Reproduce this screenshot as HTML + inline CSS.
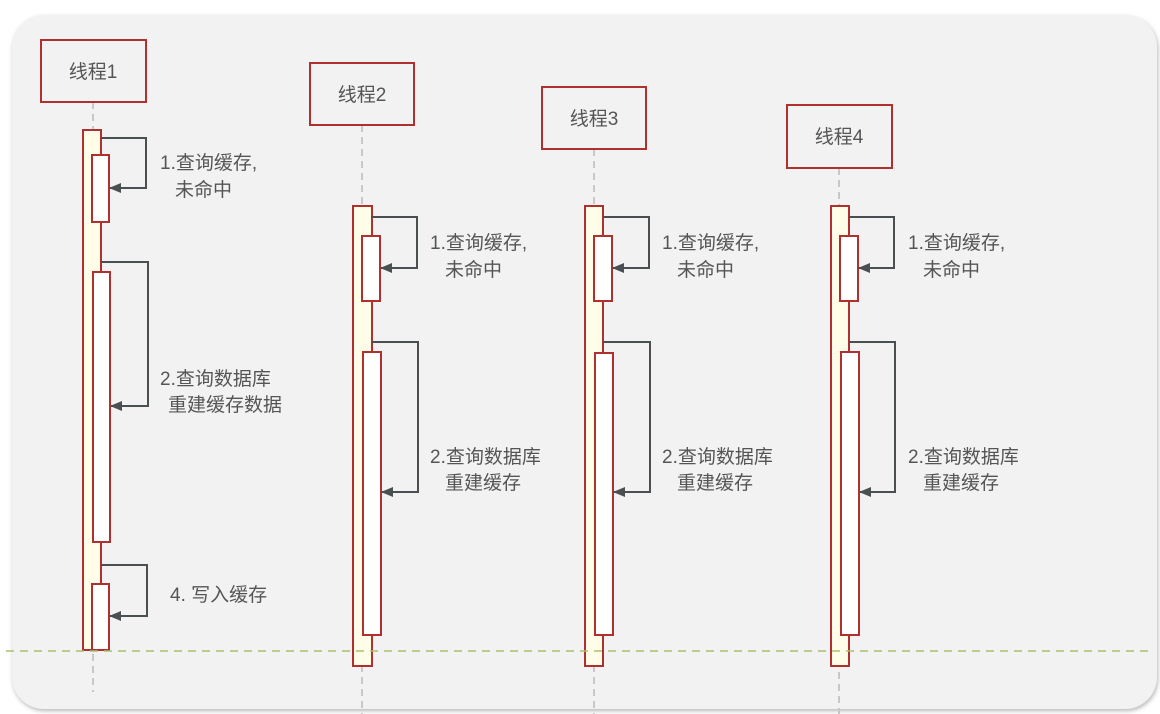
<!DOCTYPE html>
<html><head><meta charset="utf-8"><style>
html,body{margin:0;padding:0;background:#fff;}
svg{display:block;}
text{font-family:"Liberation Sans","Noto Sans CJK SC",sans-serif;font-size:19px;fill:#555;}
</style></head><body>
<svg width="1160" height="714" viewBox="0 0 1160 714" xmlns="http://www.w3.org/2000/svg">
<defs>
<filter id="sh" x="-5%" y="-5%" width="110%" height="110%"><feDropShadow dx="1" dy="2" stdDeviation="2" flood-color="#888" flood-opacity="0.6"/></filter>
<marker id="ar" markerWidth="12" markerHeight="10" refX="11" refY="5" orient="auto" markerUnits="userSpaceOnUse"><path d="M0,0 L12,5 L0,10 z" fill="#4a4f52"/></marker>
</defs>
<rect x="12" y="15" width="1145" height="694" rx="32" fill="#f2f2f2" filter="url(#sh)"/>
<g stroke="#c8c8c8" stroke-width="2" stroke-dasharray="7,5" fill="none">
<line x1="93" y1="102" x2="93" y2="692"/>
<line x1="362" y1="125" x2="362" y2="714"/>
<line x1="594" y1="149" x2="594" y2="714"/>
<line x1="839" y1="168" x2="839" y2="714"/>
</g>
<g fill="#f2f2f2" stroke="#b03030" stroke-width="2">
<rect x="41" y="40" width="105" height="62"/>
<rect x="310" y="63" width="104" height="62"/>
<rect x="542" y="87" width="104" height="62"/>
<rect x="787" y="105" width="105" height="63"/>
</g>
<text x="93" y="78" text-anchor="middle">线程1</text>
<text x="362" y="101" text-anchor="middle">线程2</text>
<text x="594" y="125" text-anchor="middle">线程3</text>
<text x="839" y="143" text-anchor="middle">线程4</text>
<g fill="#fffde8" stroke="#b03030" stroke-width="2">
<rect x="83" y="130" width="18" height="520"/>
<rect x="353" y="206" width="19" height="460"/>
<rect x="585" y="206" width="18" height="460"/>
<rect x="831" y="206" width="18" height="460"/>
</g>
<g fill="#fff" stroke="#b03030" stroke-width="2">
<rect x="92" y="155" width="17" height="67"/>
<rect x="93" y="272" width="17" height="270"/>
<rect x="92" y="584" width="17" height="66"/>
<rect x="362" y="236" width="18" height="65"/>
<rect x="363" y="352" width="18" height="283"/>
<rect x="594" y="236" width="18" height="65"/>
<rect x="595" y="353" width="18" height="282"/>
<rect x="840" y="236" width="18" height="65"/>
<rect x="841" y="352" width="18" height="283"/>
</g>
<g stroke="#4a4f52" stroke-width="2" fill="none" marker-end="url(#ar)">
<polyline points="101,138 146,138 146,188 110,188"/>
<polyline points="101,262 148,262 148,406 111,406"/>
<polyline points="101,565 147,565 147,616 110,616"/>
<polyline points="371,217 417,217 417,268 381,268"/>
<polyline points="372,342 418,342 418,492 382,492"/>
<polyline points="603,217 649,217 649,268 613,268"/>
<polyline points="603,342 650,342 650,492 614,492"/>
<polyline points="849,217 894,217 894,268 859,268"/>
<polyline points="849,342 895,342 895,492 860,492"/>
</g>
<line x1="6" y1="651" x2="1152" y2="651" stroke="#a8c070" stroke-width="1.5" stroke-dasharray="8,6"/>
<text x="160" y="169">1.查询缓存,</text>
<text x="175" y="196">未命中</text>
<text x="160" y="385">2.查询数据库</text>
<text x="168" y="411">重建缓存数据</text>
<text x="170" y="601">4. 写入缓存</text>
<text x="430" y="249">1.查询缓存,</text>
<text x="445" y="276">未命中</text>
<text x="430" y="463">2.查询数据库</text>
<text x="445" y="489">重建缓存</text>
<text x="662" y="249">1.查询缓存,</text>
<text x="677" y="276">未命中</text>
<text x="662" y="463">2.查询数据库</text>
<text x="677" y="489">重建缓存</text>
<text x="908" y="249">1.查询缓存,</text>
<text x="923" y="276">未命中</text>
<text x="908" y="463">2.查询数据库</text>
<text x="923" y="489">重建缓存</text>
</svg>
</body></html>
